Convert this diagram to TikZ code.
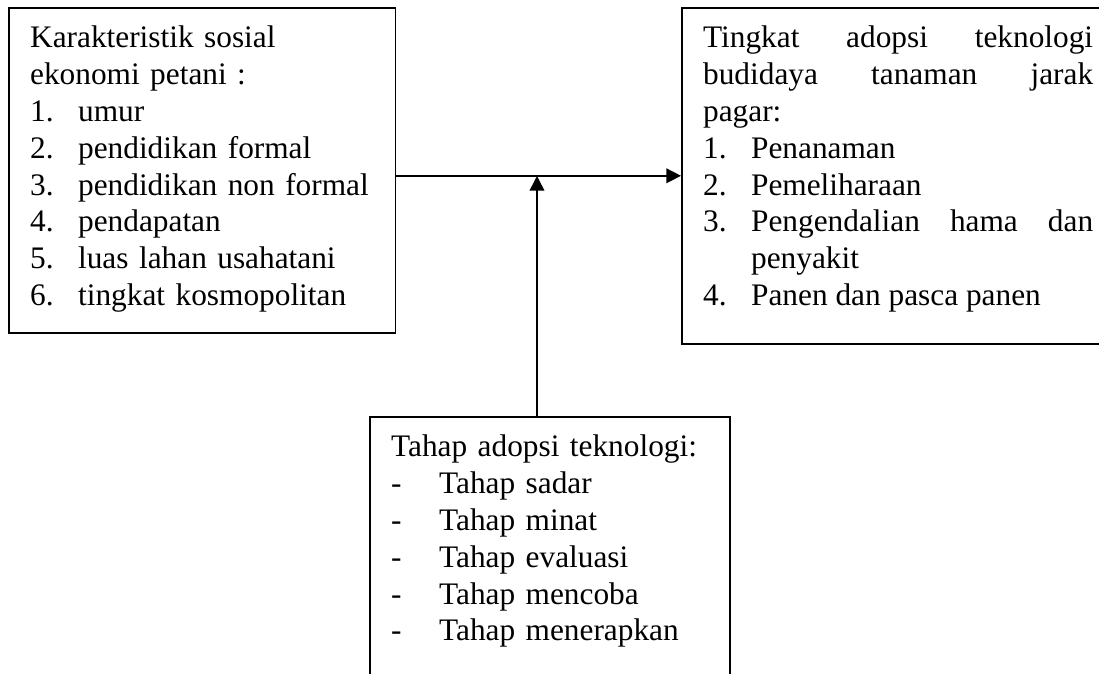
\documentclass[tikz,border=0pt]{standalone}
\usepackage{fontspec}
\setmainfont{Liberation Serif}
\usetikzlibrary{arrows.meta}
\tikzset{kotak/.style={draw,rectangle,line width=1.2pt,anchor=north west,
		inner xsep=16pt,inner ysep=0pt,text height=30pt,
		font=\fontsize{23.5pt}{27.6pt}\selectfont},
	panah/.style={line width=1.2pt,-{Triangle[length=11pt,width=11pt]}}}
\newcommand{\butir}[1]{\makebox[36pt][l]{#1}}
\hyphenpenalty=10000

\begin{document}
\begin{tikzpicture}
	[x=0.75pt,y=-0.75pt]
	\useasboundingbox (0,0) rectangle (1099,674);
	\clip (0,0) rectangle (1099,674);
	\node [kotak,text width=258pt,text depth=213.75pt,align=left] (karakter) at (8,7)
	{Karakteristik sosial\\ ekonomi petani :\\
		\butir{1.}umur\\
		\butir{2.}pendidikan formal\\
		\butir{3.}pendidikan non formal\\
		\butir{4.}pendapatan\\
		\butir{5.}luas lahan usahatani\\
		\butir{6.}tingkat kosmopolitan};
	\node [kotak,text width=292.5pt,text depth=222pt,align=justify] (adopsi) at (681,7)
	{Tingkat adopsi teknologi\linebreak budidaya tanaman jarak\linebreak pagar:\par
		\butir{1.}Penanaman\par
		\butir{2.}Pemeliharaan\par
		\hangindent=36pt\hangafter=1\butir{3.}Pengendalian hama dan\linebreak penyakit\par
		\butir{4.}Panen dan pasca panen\par};
	\node [kotak,text width=238pt,text depth=210pt,align=left] (tahap) at (369,416)
	{Tahap adopsi teknologi:\\
		\butir{-}Tahap sadar\\
		\butir{-}Tahap minat\\
		\butir{-}Tahap evaluasi\\
		\butir{-}Tahap mencoba\\
		\butir{-}Tahap menerapkan};
	\coordinate (temu) at (537,176);
	\draw [panah] (karakter.east |- adopsi.west) -- (adopsi.west);
	\draw [panah] (tahap.north -| temu) -- (temu);
\end{tikzpicture}
\end{document}
